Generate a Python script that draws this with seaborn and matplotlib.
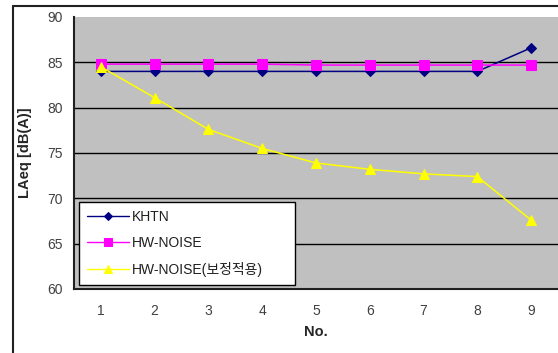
import matplotlib
matplotlib.use("Agg")
import matplotlib.pyplot as plt
import seaborn as sns
import pandas as pd
from matplotlib.lines import Line2D

categories = [1, 2, 3, 4, 5, 6, 7, 8, 9]
khtn = [84.0, 84.0, 84.0, 84.0, 84.0, 84.0, 84.0, 84.0, 86.6]
hw_noise = [84.8, 84.8, 84.8, 84.8, 84.7, 84.7, 84.7, 84.7, 84.7]
hw_noise_corr = [84.5, 81.1, 77.6, 75.5, 73.9, 73.2, 72.7, 72.4, 67.6]
series_names = ["KHTN", "HW-NOISE", "HW-NOISE(보정적용)"]
y_ticks = [60, 65, 70, 75, 80, 85, 90]

sns.set_theme(style="white")
plt.rcParams['font.family'] = ['Liberation Sans', 'Noto Sans CJK KR', 'DejaVu Sans']

fig = plt.figure(figsize=(5.58, 3.53), dpi=100)
ax = fig.add_axes([74/558, 64/353, 484/558, 272/353])
ax.set_facecolor("#C0C0C0")

styles = [
    (khtn, "#000080", "D", 5),
    (hw_noise, "#FF00FF", "s", 7),
    (hw_noise_corr, "#FFFF00", "^", 7),
]
for name, (vals, col, mk, ms) in zip(series_names, styles):
    df = pd.DataFrame({"No.": categories, "v": vals})
    sns.lineplot(data=df, x="No.", y="v", ax=ax, color=col, marker=mk,
                 markersize=ms, markeredgecolor=col, linewidth=1.1, label=name,
                 zorder=3)

ax.set_xlim(0.5, 9.5)
ax.set_ylim(60, 90)
ax.set_yticks(y_ticks)
ax.set_xticks(categories)
ax.set_xticks([c + 0.5 for c in categories[:-1]], minor=True)
ax.tick_params(axis="x", which="major", length=0, pad=11, labelsize=10, labelcolor="#404040")
ax.tick_params(axis="x", which="minor", direction="in", length=4, width=1, color="black")
ax.tick_params(axis="y", which="major", direction="out", length=3, width=1, labelsize=10,
               labelcolor="#404040", pad=5)
for y in y_ticks[1:-1]:
    ax.axhline(y, color="black", linewidth=1.0, zorder=1)
for side in ["left", "bottom"]:
    ax.spines[side].set_color("#202020")
    ax.spines[side].set_linewidth(1.5)
for side in ["top", "right"]:
    ax.spines[side].set_visible(False)

ax.set_xlabel("No.", fontweight="bold", fontsize=10.5, labelpad=5)
ax.set_ylabel("LAeq [dB(A)]", fontweight="bold", fontsize=10.5, labelpad=11)

leg = ax.legend(loc="lower left", bbox_to_anchor=(0.01, 0.015, 0.447, 0.305), mode="expand",
                frameon=True, fancybox=False, framealpha=1, edgecolor="black",
                fontsize=10, handlelength=3.0, borderpad=0.6, labelspacing=0.85,
                handletextpad=0.2, borderaxespad=0, markerscale=0.75)
leg.get_frame().set_linewidth(1.0)
for t in leg.get_texts():
    t.set_color("#202020")
for h in leg.legend_handles:
    h.set_linewidth(1.0)

# outer chart frame
fig.add_artist(Line2D([13/558, 13/558], [0, 1 - 6/353], color="#202020", linewidth=1.5,
                      transform=fig.transFigure))
fig.add_artist(Line2D([13/558, 1], [1 - 6/353, 1 - 6/353], color="#202020", linewidth=1.5,
                      transform=fig.transFigure))

fig.savefig("out.png", dpi=100)
